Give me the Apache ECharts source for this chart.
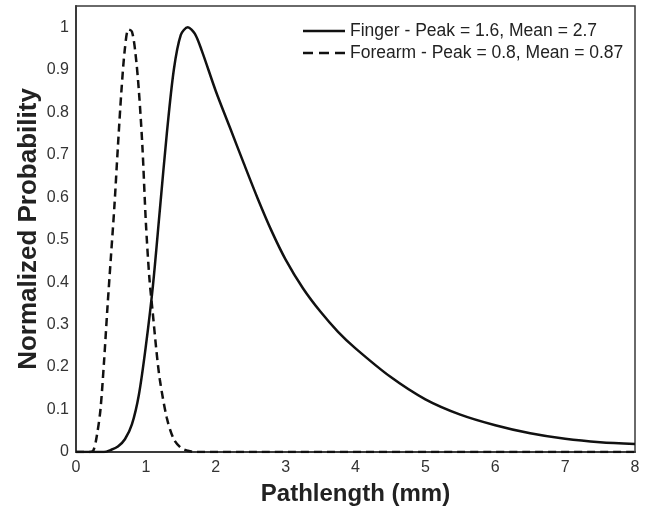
<!DOCTYPE html>
<html>
<head>
<meta charset="utf-8">
<script src="https://cdn.jsdelivr.net/npm/echarts@6/dist/echarts.min.js"></script>
<style>html,body{margin:0;padding:0;background:#fff}#c{width:648px;height:507px}</style>
</head>
<body>
<div id="c"></div>
<script>
var xTicks = [0, 1, 2, 3, 4, 5, 6, 7, 8];
var yTicks = [0, 0.1, 0.2, 0.3, 0.4, 0.5, 0.6, 0.7, 0.8, 0.9, 1];

var fingerX = [0, 0.4, 0.5, 0.6, 0.7, 0.8, 0.9, 1.0, 1.1, 1.2, 1.3, 1.4, 1.5, 1.6, 1.7, 1.8, 2.0, 2.2, 2.4, 2.6, 2.8, 3.0, 3.25, 3.5, 3.75, 4.0, 4.5, 5.0, 5.5, 6.0, 6.5, 7.0, 7.5, 8.0];
var fingerY = [0, 0, 0.005, 0.013, 0.03, 0.065, 0.135, 0.25, 0.39, 0.57, 0.75, 0.9, 0.982, 1.0, 0.985, 0.945, 0.85, 0.765, 0.68, 0.597, 0.52, 0.453, 0.385, 0.33, 0.283, 0.244, 0.177, 0.124, 0.088, 0.063, 0.044, 0.031, 0.023, 0.019];

var forearmX = [0, 0.2, 0.25, 0.3, 0.35, 0.4, 0.45, 0.5, 0.55, 0.6, 0.65, 0.7, 0.75, 0.8, 0.85, 0.9, 0.95, 1.0, 1.05, 1.1, 1.15, 1.2, 1.3, 1.4, 1.5, 1.6, 1.7, 8.0];
var forearmY = [0, 0, 0.004, 0.04, 0.1, 0.21, 0.34, 0.46, 0.58, 0.72, 0.85, 0.95, 0.995, 0.99, 0.94, 0.85, 0.72, 0.54, 0.41, 0.325, 0.24, 0.17, 0.08, 0.03, 0.01, 0.003, 0, 0];

var seriesNames = ['Finger - Peak = 1.6, Mean = 2.7', 'Forearm - Peak = 0.8, Mean = 0.87'];

function pairs(xs, ys) { return xs.map(function (x, i) { return [x, ys[i]]; }); }

var chart = echarts.init(document.getElementById('c'), null, { renderer: 'canvas' });
var font = 'Liberation Sans, Arial, sans-serif';
chart.setOption({
  animation: false,
  backgroundColor: '#fff',
  grid: { left: 76, right: 13, top: 6, bottom: 55, outerBoundsMode: 'none', containLabel: false,
    show: true, borderColor: '#3a3a3a', borderWidth: 1.5, backgroundColor: 'transparent' },
  legend: {
    orient: 'vertical', left: 298, top: 17, itemWidth: 42, itemHeight: 14, itemGap: 4,
    textStyle: { fontFamily: font, fontSize: 17.5, color: '#222' },
    data: [
      { name: seriesNames[0], icon: 'path://M0,0h42v2.5h-42z' },
      { name: seriesNames[1], icon: 'path://M0,0h10v2.5h-10z M16,0h10v2.5h-10z M32,0h10v2.5h-10z' }
    ]
  },
  xAxis: {
    type: 'value', min: xTicks[0], max: xTicks[xTicks.length - 1], interval: 1,
    name: 'Pathlength (mm)', nameLocation: 'middle', nameGap: 30,
    nameTextStyle: { fontFamily: font, fontSize: 24, fontWeight: 'bold', color: '#222' },
    axisLine: { lineStyle: { color: '#3a3a3a', width: 2 } },
    axisTick: { show: false },
    splitLine: { show: false },
    axisLabel: { fontFamily: font, fontSize: 16, color: '#333', margin: 8 }
  },
  yAxis: {
    type: 'value', min: 0, max: 1.05, interval: 0.1,
    name: 'Normalized Probability', nameLocation: 'middle', nameGap: 34, nameMoveOverlap: false,
    nameTextStyle: { fontFamily: font, fontSize: 26, fontWeight: 'bold', color: '#222' },
    axisLine: { lineStyle: { color: '#3a3a3a', width: 2 } },
    axisTick: { show: false },
    splitLine: { show: false },
    axisLabel: {
      fontFamily: font, fontSize: 16, color: '#333', margin: 7, showMaxLabel: false,
      formatter: function (v) {
        var r = Math.round(v * 10) / 10;
        return yTicks.indexOf(r) >= 0 && Math.abs(r - v) < 1e-6 ? String(r) : '';
      }
    }
  },
  series: [
    { name: seriesNames[0], type: 'line', data: pairs(fingerX, fingerY), symbol: 'none', smooth: 0.3,
      lineStyle: { color: '#111', width: 2.5 }, itemStyle: { color: '#111' } },
    { name: seriesNames[1], type: 'line', data: pairs(forearmX, forearmY), symbol: 'none', smooth: 0.3,
      lineStyle: { color: '#111', width: 2.5, type: [8, 5] }, itemStyle: { color: '#111' } }
  ]
});
</script>
</body>
</html>
